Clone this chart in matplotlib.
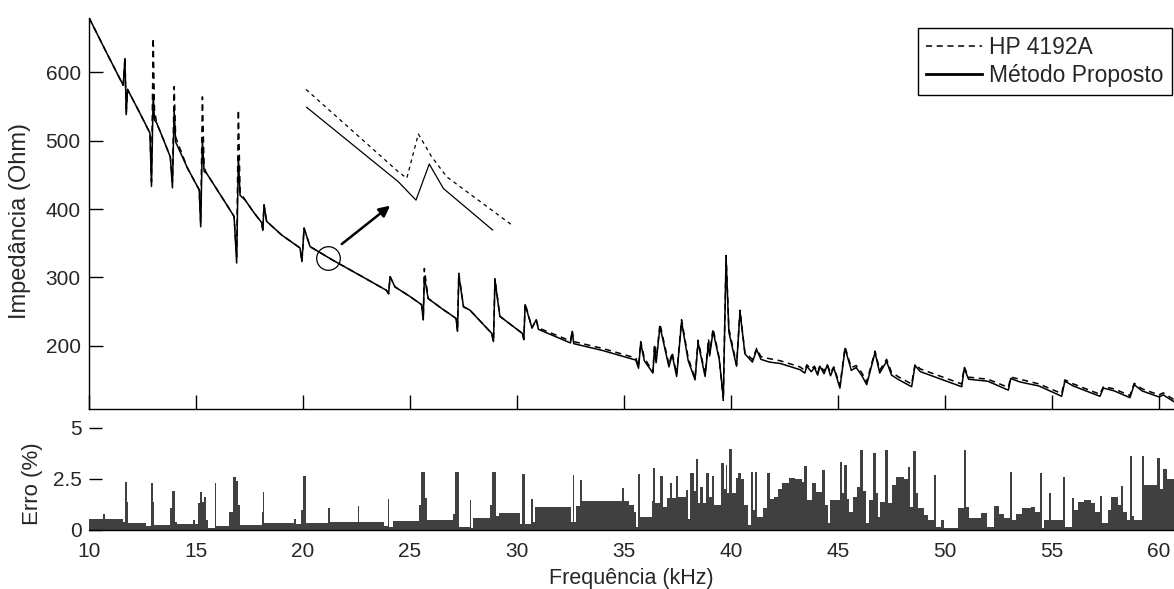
import numpy as np
import matplotlib
matplotlib.use('Agg')
import matplotlib.pyplot as plt

plt.rcParams['font.family'] = ['Liberation Sans', 'DejaVu Sans']

## impedance curves (kHz, Ohm)
freq = [10.0, 10.8, 11.6, 11.68, 11.74, 11.80, 12.3, 12.85, 12.92, 13.0,
        13.06, 13.16, 13.5, 13.80, 13.90, 13.98, 14.05, 14.6, 15.15, 15.22,
        15.30, 15.38, 15.5, 16.4, 16.78, 16.90, 16.98, 17.06, 17.3, 17.7,
        18.07, 18.12, 18.18, 18.3, 19.0, 19.86, 19.95, 20.05, 20.33, 21.4,
        22.6, 23.9, 24.0, 24.07, 24.3, 25.0, 25.54, 25.62, 25.67, 25.85,
        26.5, 27.15, 27.22, 27.28, 27.5, 27.8, 28.82, 28.9, 28.97, 29.2,
        30.25, 30.32, 30.38, 30.7, 30.9, 31.0, 32.5, 32.58, 32.65, 34.0,
        35.55, 35.68, 35.78, 35.95, 36.35, 36.43, 36.5, 36.68, 37.1, 37.25,
        37.46, 37.55, 37.69, 38.0, 38.32, 38.46, 38.79, 38.95, 39.0, 39.16,
        39.45, 39.64, 39.77, 39.9, 40.26, 40.42, 40.65, 41.0, 41.2, 41.4,
        41.8, 42.3, 43.22, 43.45, 43.54, 43.75, 43.9, 44.05, 44.15, 44.35,
        44.5, 44.65, 44.8, 45.09, 45.33, 45.62, 45.85, 46.1, 46.34, 46.73,
        46.95, 47.27, 47.5, 47.85, 48.44, 48.6, 48.85, 49.9, 50.78, 50.9,
        51.1, 52.0, 52.96, 53.07, 53.5, 54.4, 55.45, 55.6, 56.0, 57.24,
        57.4, 57.9, 58.64, 58.84, 59.2, 60.0, 60.2, 60.7]

z_proposto = [680, 630, 581, 620, 538, 575, 545, 511, 433, 567,
              530, 526, 500, 476, 431, 545, 498, 460, 428, 374,
              501, 455, 452, 408, 389, 321, 476, 420, 413, 395,
              380, 369, 406, 382, 362, 343, 323, 372, 345, 325,
              304, 281, 276, 301, 286, 272, 260, 238, 301, 269,
              254, 240, 221, 303, 257, 252, 218, 206, 296, 243,
              218, 209, 260, 226, 238, 224, 204, 221, 203, 193,
              179, 167, 204, 178, 160, 199, 175, 228, 169, 187,
              155, 187, 235, 178, 150, 205, 155, 205, 185, 221,
              180, 124, 330, 220, 170, 250, 188, 176, 194, 180,
              176, 174, 165, 160, 170, 162, 168, 157, 170, 159,
              172, 156, 168, 138, 196, 164, 168, 157, 143, 190,
              160, 177, 157, 150, 140, 171, 162, 150, 140, 167,
              151, 148, 135, 152, 147, 141, 126, 148, 141, 126,
              138, 134, 124, 143, 134, 125, 128, 118]

z_hp = [680, 630, 581, 622, 540, 575, 545, 511, 440, 650,
        545, 526, 500, 476, 440, 579, 505, 460, 428, 380,
        564, 460, 452, 408, 389, 330, 545, 425, 413, 395,
        380, 369, 406, 382, 362, 343, 323, 372, 345, 325,
        304, 281, 276, 301, 286, 272, 260, 238, 313, 269,
        254, 240, 221, 306, 257, 252, 218, 206, 298, 243,
        218, 209, 262, 226, 238, 226, 207, 222, 206, 196,
        182, 170, 206, 182, 162, 202, 178, 232, 172, 190,
        158, 190, 238, 182, 152, 208, 158, 210, 188, 225,
        182, 120, 332, 225, 172, 252, 190, 180, 196, 184,
        181, 178, 169, 164, 172, 166, 170, 160, 171, 163,
        172, 160, 169, 142, 198, 168, 171, 161, 147, 192,
        164, 180, 161, 154, 144, 173, 166, 154, 144, 169,
        154, 151, 139, 154, 151, 144, 130, 150, 144, 129,
        140, 137, 127, 145, 137, 128, 131, 121]

## detail of the resonance near 25 kHz, drawn enlarged above the curve
det_hp_f = [20.14, 24.45, 24.85, 25.39, 26.01, 26.72, 29.83]
det_hp_z = [575, 454.6, 445, 509.7, 476.5, 447, 375]
det_pr_f = [20.17, 24.45, 25.28, 25.9, 26.56, 28.86]
det_pr_z = [548.8, 440, 413, 465.8, 430, 369.3]
circ_f, circ_z = 21.18, 327.9
arrow_from = (21.81, 348.7)
arrow_to = (24.07, 404.8)

## relative error (%) as steps starting at each frequency
err_f = [10.0, 10.65, 10.75, 11.6, 11.70, 11.76, 11.82, 12.65, 12.92, 12.98,
         13.06, 13.80, 13.86, 14.0, 14.1, 14.88, 14.96, 15.09, 15.2, 15.3,
         15.38, 15.45, 15.55, 15.88, 15.95, 16.55, 16.72, 16.86, 16.96, 17.04,
         18.08, 18.12, 18.2, 19.58, 19.66, 19.92, 19.98, 20.16, 21.15, 21.25,
         22.56, 22.63, 23.78, 23.95, 24.03, 24.19, 25.41, 25.52, 25.68, 25.81,
         27.03, 27.11, 27.3, 27.8, 27.86, 27.95, 28.74, 28.84, 29.0, 29.14,
         30.12, 30.22, 30.37, 30.65, 30.77, 30.85, 32.5, 32.6, 32.68, 32.75,
         32.96, 33.06, 34.9, 35.02, 35.23, 35.47, 35.55, 35.64, 35.75, 36.29,
         36.35, 36.45, 36.7, 36.8, 37.0, 37.15, 37.22, 37.45, 37.52, 37.9,
         37.97, 38.1, 38.25, 38.36, 38.45, 38.55, 38.68, 38.85, 38.95, 39.1,
         39.2, 39.55, 39.66, 39.75, 39.83, 39.92, 40.05, 40.25, 40.35, 40.45,
         40.6, 40.8, 40.93, 41.02, 41.12, 41.22, 41.5, 41.7, 41.82, 42.0,
         42.2, 42.4, 42.7, 43.0, 43.3, 43.43, 43.55, 43.8, 43.95, 44.25,
         44.4, 44.52, 44.62, 45.08, 45.18, 45.3, 45.42, 45.5, 45.7, 45.9,
         46.05, 46.15, 46.3, 46.45, 46.65, 46.78, 46.85, 46.95, 47.2, 47.33,
         47.5, 47.7, 48.1, 48.25, 48.35, 48.5, 48.65, 48.75, 49.0, 49.2,
         49.5, 49.57, 49.8, 49.95, 50.6, 50.87, 50.97, 51.1, 51.7, 51.95,
         52.28, 52.5, 52.75, 53.03, 53.12, 53.3, 53.6, 54.0, 54.2, 54.43,
         54.52, 54.62, 54.88, 54.96, 55.52, 55.62, 55.95, 56.03, 56.2, 56.5,
         56.8, 57.0, 57.25, 57.35, 57.6, 57.75, 58.1, 58.22, 58.3, 58.5,
         58.65, 58.75, 58.85, 59.2, 59.3, 59.9, 60.05, 60.2, 60.35]
err_v = [0.52, 0.76, 0.52, 0.41, 2.36, 1.38, 0.36, 0.2, 2.28, 1.35,
         0.24, 1.05, 1.9, 0.4, 0.28, 0.49, 0.28, 1.3, 1.87, 1.38,
         1.6, 0.5, 0.08, 2.28, 0.2, 0.9, 2.57, 2.4, 1.2, 0.25,
         0.9, 1.87, 0.35, 0.52, 0.3, 1.0, 2.63, 0.33, 1.06, 0.37,
         1.17, 0.37, 0.2, 1.51, 0.16, 0.45, 1.2, 2.85, 1.55, 0.48,
         0.8, 2.85, 0.16, 1.46, 0.1, 0.57, 1.2, 2.85, 0.7, 0.81,
         0.3, 2.76, 0.3, 1.5, 0.4, 1.1, 0.4, 2.68, 0.4, 1.17,
         2.44, 1.41, 2.07, 1.4, 1.22, 0.89, 0.16, 2.72, 0.65, 1.4,
         3.04, 1.3, 2.63, 1.1, 1.54, 2.3, 1.54, 2.63, 1.6, 1.95,
         0.55, 2.8, 1.9, 3.45, 1.3, 2.1, 1.3, 2.8, 1.6, 2.63,
         1.22, 3.28, 2.0, 3.17, 1.8, 3.95, 1.8, 2.52, 2.8, 2.5,
         1.2, 0.24, 2.85, 1.0, 2.85, 0.65, 1.06, 2.8, 1.5, 1.6,
         2.0, 2.3, 2.52, 2.5, 2.36, 3.12, 1.46, 2.28, 1.87, 2.93,
         1.2, 0.33, 1.46, 3.33, 1.8, 3.2, 1.5, 0.9, 1.6, 2.1,
         3.9, 1.9, 0.33, 1.46, 3.77, 1.8, 0.65, 1.38, 3.9, 1.3,
         2.2, 2.6, 2.5, 3.09, 1.14, 3.85, 1.8, 1.06, 0.73, 0.49,
         2.68, 0.16, 0.49, 0.08, 1.06, 3.9, 1.14, 0.57, 0.81, 0.16,
         1.17, 0.8, 0.57, 2.85, 0.49, 0.8, 1.06, 1.1, 0.9, 2.8,
         0.08, 0.49, 1.79, 0.49, 2.57, 0.16, 1.54, 1.0, 1.38, 1.46,
         1.3, 0.9, 1.66, 0.33, 1.0, 1.63, 1.2, 2.16, 0.9, 0.49,
         3.63, 0.7, 0.49, 3.63, 2.2, 3.5, 2.0, 2.96, 2.5]

f_max = 60.7
txt = '#262626'
fs_tick = 15

fig = plt.figure(figsize=(11.74, 5.89), dpi=100)
ax1 = fig.add_axes([0.0758, 0.3056, 0.9242, 0.6638])
ax2 = fig.add_axes([0.0758, 0.1002, 0.9242, 0.1737])

##top: impedance
ax1.plot(freq, z_hp, color='k', lw=1.1, ls=(0, (4, 3)), label='HP 4192A')
ax1.plot(freq, z_proposto, color='k', lw=1.1, label='Método Proposto')
ax1.plot(det_hp_f, det_hp_z, color='k', lw=0.9, ls=(0, (3, 3)))
ax1.plot(det_pr_f, det_pr_z, color='k', lw=0.9)
ax1.plot([circ_f], [circ_z], marker='o', ms=17, mfc='none', mec='k', mew=0.9)
ax1.annotate('', xy=arrow_to, xytext=arrow_from,
             arrowprops=dict(arrowstyle='-|>', color='k', lw=1.8,
                             mutation_scale=16, shrinkA=0, shrinkB=0))

ax1.set_xlim(10, f_max)
ax1.set_ylim(107.4, 679.4)
ax1.set_xticks(np.arange(10, 61, 5))
ax1.set_xticklabels([])
ax1.set_yticks([200, 300, 400, 500, 600])
ax1.tick_params(direction='in', length=10, width=1, colors='k',
                labelcolor=txt, labelsize=fs_tick, pad=6)
for s in ['top', 'right']:
    ax1.spines[s].set_visible(False)
for s in ['left', 'bottom']:
    ax1.spines[s].set_linewidth(1.0)
ax1.set_ylabel('Impedância (Ohm)', fontsize=17, color=txt)
ax1.yaxis.set_label_coords(-0.0535, 0.48)

leg = ax1.legend(loc='upper right', bbox_to_anchor=(0.998, 0.974),
                 borderaxespad=0, fontsize=16.5, handlelength=2.45,
                 handletextpad=0.3, borderpad=0.35, labelspacing=0.2,
                 fancybox=False, framealpha=1, edgecolor='k')
leg.get_frame().set_linewidth(1.0)
leg.get_lines()[1].set_linewidth(2.0)
for t in leg.get_texts():
    t.set_color(txt)

##bottom: error
edges = err_f + [f_max]
ax2.stairs(err_v, edges, fill=True, color='#404040', lw=0)
ax2.set_xlim(10, f_max)
ax2.set_ylim(0, 5)
ax2.set_xticks(np.arange(10, 61, 5))
ax2.set_yticks([0, 2.5, 5])
ax2.set_yticklabels(['0', '2.5', '5'])
ax2.tick_params(axis='y', direction='in', length=9, width=1, colors='k',
                labelcolor=txt, labelsize=fs_tick, pad=5)
ax2.tick_params(axis='x', length=0, labelcolor=txt, labelsize=fs_tick, pad=9)
for s in ['top', 'right', 'left']:
    ax2.spines[s].set_visible(False)
ax2.spines['bottom'].set_linewidth(1.0)
ax2.set_xlabel('Frequência (kHz)', fontsize=15.5, color=txt, labelpad=5)
ax2.set_ylabel('Erro (%)', fontsize=16, color=txt)
ax2.yaxis.set_label_coords(-0.0424, 0.45)

fig.savefig('out.png', dpi=100)
